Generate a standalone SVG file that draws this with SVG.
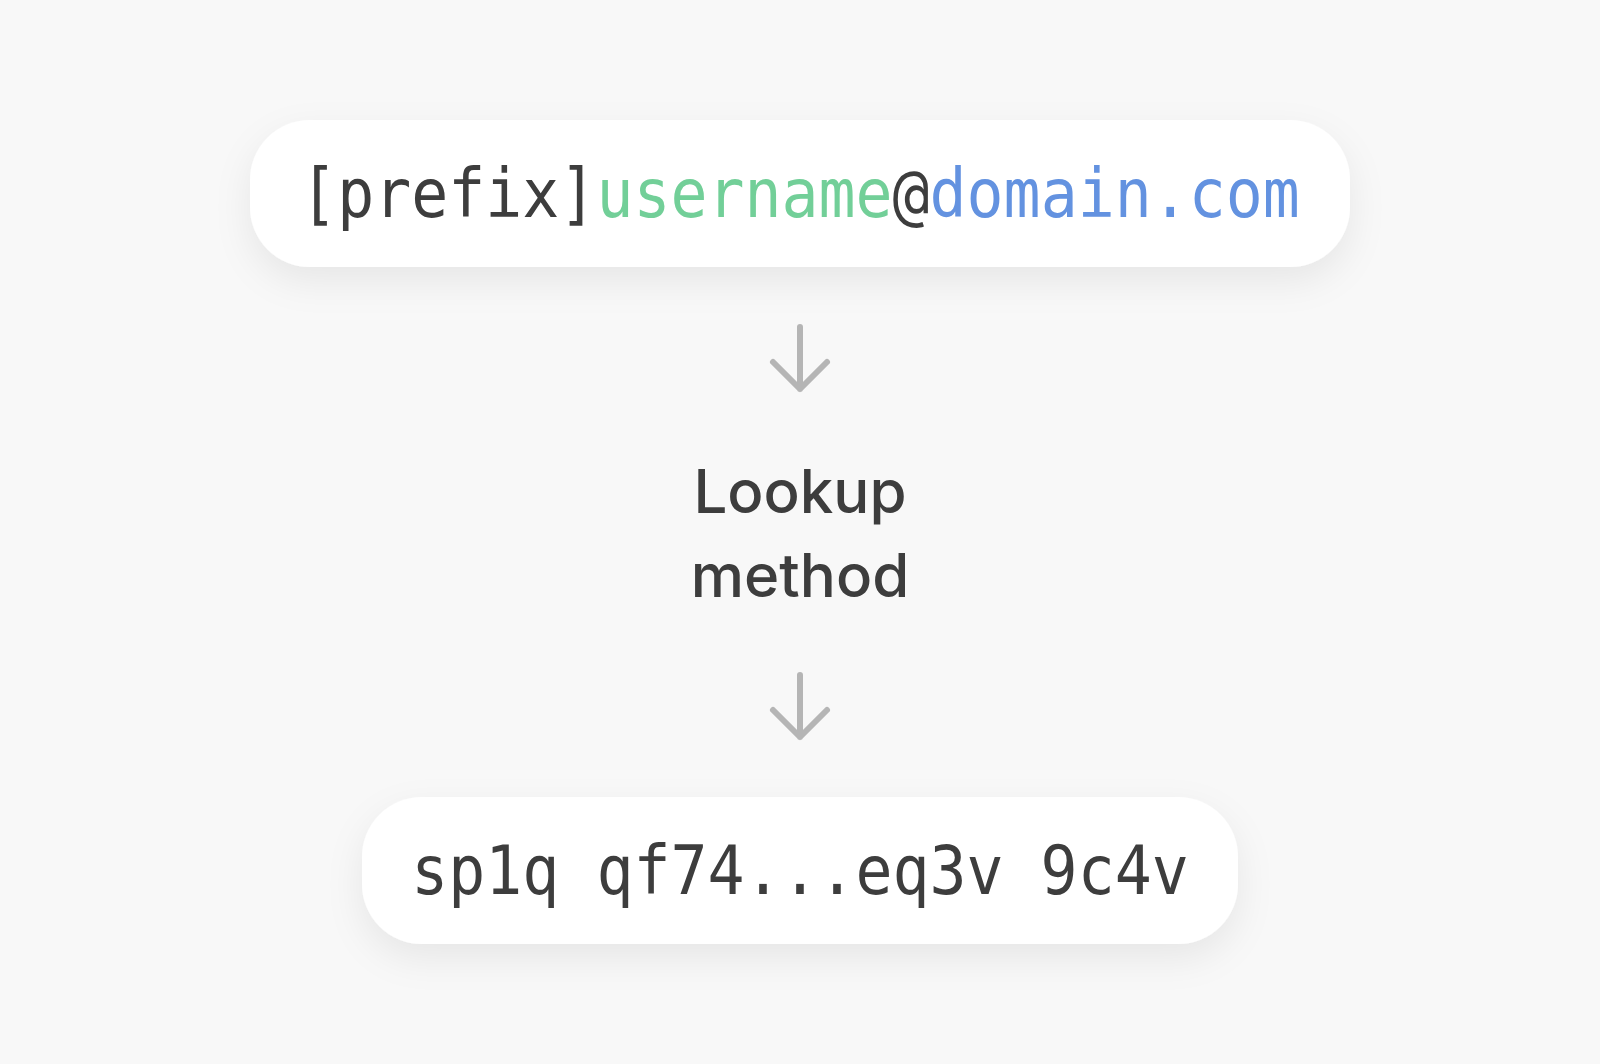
<svg xmlns="http://www.w3.org/2000/svg" width="1600" height="1064" viewBox="0 0 1600 1064">
<defs>
<filter id="shadow" x="-20%" y="-50%" width="140%" height="220%">
<feDropShadow dx="0" dy="14" stdDeviation="18" flood-color="#000" flood-opacity="0.07"/>
</filter>
<style>
.box{fill:#ffffff;filter:url(#shadow);}
.mono{font-family:"DejaVu Sans Mono","Liberation Mono",monospace;font-size:61.5px;fill:#3d3d3d;}
.label{font-family:Inter,"Noto Sans",sans-serif;font-size:60px;font-weight:500;fill:#3d3d3d;}
.arrow{fill:none;stroke:#b5b5b5;stroke-width:6;stroke-linecap:round;stroke-linejoin:round;}
.green{fill:#72cf98;}
.blue{fill:#6392e0;}
</style>
</defs>
<rect width="1600" height="1064" fill="#f8f8f8"/>
<g id="address">
<rect class="box" x="250" y="120" width="1100" height="147" rx="60"/>
<text class="mono" transform="translate(800 217) scale(1 1.09)" x="0" y="0" text-anchor="middle">[prefix]<tspan class="green">username</tspan>@<tspan class="blue">domain.com</tspan></text>
</g>
<g id="lookup">
<text class="label" x="800" y="513" text-anchor="middle">Lookup</text>
<text class="label" x="800" y="597" text-anchor="middle">method</text>
</g>
<g id="result">
<rect class="box" x="362" y="797" width="876" height="147" rx="60"/>
<text class="mono" transform="translate(800 894) scale(1 1.09)" x="0" y="0" text-anchor="middle">sp1q qf74...eq3v 9c4v</text>
</g>
<g id="connectors">
<path class="arrow" d="M800 327 V389 M773 362 L800 389 L827 362"/>
<path class="arrow" d="M800 675 V737 M773 710 L800 737 L827 710"/>
</g>
</svg>
